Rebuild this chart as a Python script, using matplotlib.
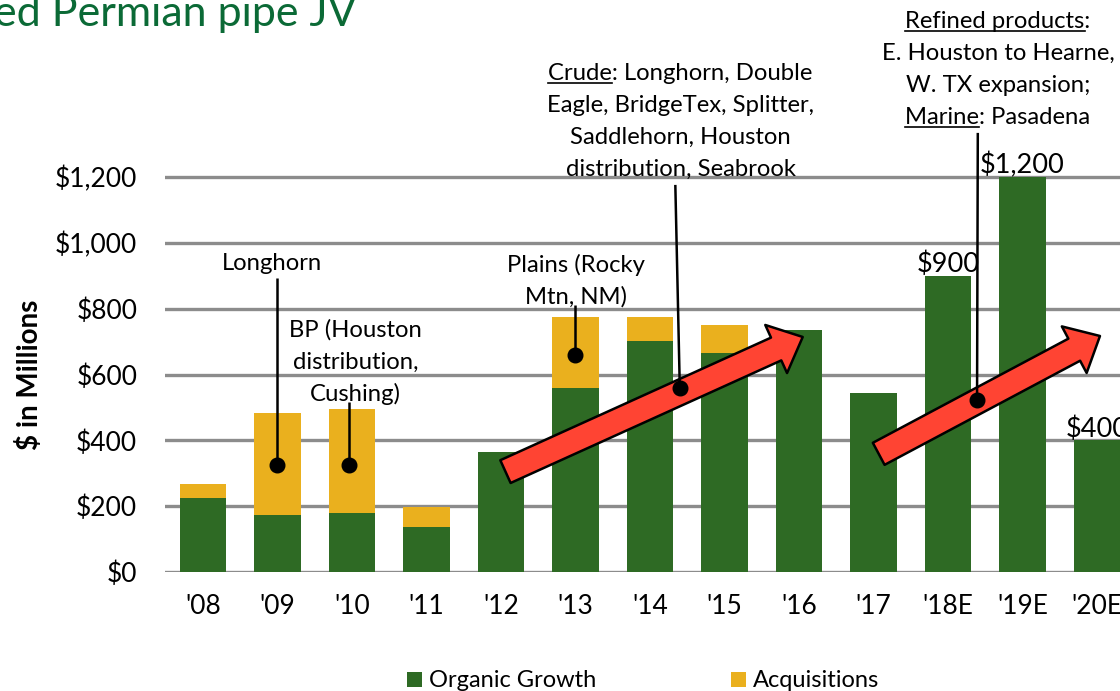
import matplotlib
matplotlib.use('Agg')
import matplotlib.pyplot as plt
from matplotlib.patches import FancyArrowPatch, Rectangle, ArrowStyle
from matplotlib.lines import Line2D

plt.rcParams['font.family'] = ['Lato', 'DejaVu Sans']
plt.rcParams['text.parse_math'] = False

# ---------------- data ----------------
years = ["'08", "'09", "'10", "'11", "'12", "'13", "'14", "'15", "'16", "'17", "'18E", "'19E", "'20E"]
organic = [225, 173, 179, 137, 365, 559, 702, 666, 735, 544, 900, 1200, 400]
acquisitions = [42, 310, 316, 61, 0, 216, 73, 84, 0, 0, 0, 0, 0]
yticks = [0, 200, 400, 600, 800, 1000, 1200]
ytick_labels = ['$0', '$200', '$400', '$600', '$800', '$1,000', '$1,200']
value_labels = {10: '$900', 11: '$1,200', 12: '$400'}
series_names = ['Organic Growth', 'Acquisitions']
title_text = 'ed Permian pipe JV'

GREEN = '#2E6A24'
GOLD = '#EAB01E'
RED = '#FF4433'
GRID = '#8C8C8C'
TITLE = '#0B6A36'

W, H = 1120, 691
fig = plt.figure(figsize=(W / 100, H / 100), dpi=100)
ax = fig.add_axes([165 / W, (H - 572) / H, (1134.25 - 165) / W, 572 / H])

xs = list(range(len(years)))
ax.bar(xs, organic, width=0.63, color=GREEN, zorder=2)
ax.bar(xs, acquisitions, bottom=organic, width=0.63, color=GOLD, zorder=2)

ax.set_xlim(-0.51, 12.5)
ax.set_ylim(0, 572 / (395 / 1200))
ax.set_yticks(yticks)
ax.set_yticklabels(ytick_labels, fontsize=19)
ax.set_xticks(xs)
ax.set_xticklabels(years, fontsize=19)
ax.tick_params(axis='both', length=0)
ax.tick_params(axis='y', pad=20)
ax.tick_params(axis='x', pad=16)
ax.yaxis.grid(True, color=GRID, lw=2.4, zorder=0)
ax.set_axisbelow(True)
for s in ax.spines.values():
    s.set_visible(False)
ax.patch.set_alpha(0)

# value labels
for i, lab in value_labels.items():
    ax.text(i, organic[i] + acquisitions[i] + 10, lab, ha='center', va='baseline', fontsize=19.5)

# arrows
style = ArrowStyle.Simple(head_length=21, head_width=38, tail_width=18)
for (a, b) in [((4.06, 305), (8.05, 714)), ((9.07, 359), (12.04, 717))]:
    arr = FancyArrowPatch(a, b, arrowstyle=style, mutation_scale=1, fc=RED, ec='black',
                          lw=1.8, zorder=4, shrinkA=0, shrinkB=0)
    ax.add_patch(arr)

# connectors and dots
connectors = [((1.0, 894), (1.0, 325)), ((1.96, 517), (1.96, 325)), ((5.0, 812), (5.0, 660)),
              ((6.34, 1176), (6.40, 559)), ((10.40, 1334), (10.39, 523))]
for (p0, p1) in connectors:
    ax.plot([p0[0], p1[0]], [p0[1], p1[1]], color='black', lw=1.8, zorder=5, solid_capstyle='butt')
    ax.plot([p1[0]], [p1[1]], 'o', ms=10.5, color='black', zorder=6)

# annotation text blocks
SP = 97
ANN = 17.2
underlines = []


def block(xc, y0, lines, size=ANN):
    for k, ln in enumerate(lines):
        if isinstance(ln, tuple):
            under, rest = ln
            t = ax.text(xc, y0 - k * SP, under + rest, ha='center', va='baseline', fontsize=size, zorder=7)
            underlines.append((t, under, xc, y0 - k * SP, size))
        else:
            ax.text(xc, y0 - k * SP, ln, ha='center', va='baseline', fontsize=size, zorder=7)


block(0.93, 918, ['Longhorn'])
block(2.05, 714, ['BP (Houston', 'distribution,', 'Cushing)'])
block(5.01, 912, ['Plains (Rocky', 'Mtn, NM)'])
block(6.41, 1495, [('Crude', ': Longhorn, Double'), 'Eagle, BridgeTex, Splitter,',
                   'Saddlehorn, Houston', 'distribution, Seabrook'])
block(10.67, 1653, [('Refined products', ':'), 'E. Houston to Hearne,', 'W. TX expansion;',
                    ('Marine', ': Pasadena')])

# y label, title
fig.text(30 / W, 1 - 375 / H, '$ in Millions', rotation=90, ha='center', va='center',
         fontsize=20, fontweight='bold')
fig.text(357 / W, 1 - 26 / H, title_text, ha='right', va='baseline', fontsize=31, color=TITLE)

# legend
for (x0, name, col) in [(407, series_names[0], GREEN), (731, series_names[1], GOLD)]:
    fig.add_artist(Rectangle((x0 / W, 1 - 687 / H), 15 / W, 15 / H, transform=fig.transFigure,
                             fc=col, ec='none'))
    fig.text((x0 + 22) / W, 1 - 687 / H, name, ha='left', va='baseline', fontsize=17)

# underlines
fig.canvas.draw()
r = fig.canvas.get_renderer()
for (t, under, xc, yb, size) in underlines:
    bb = t.get_window_extent(r)
    tmp = ax.text(0, 0, under, fontsize=size)
    wb = tmp.get_window_extent(r)
    tmp.remove()
    ybase = ax.transData.transform((xc, yb))[1] - 3
    fx0 = bb.x0 / W
    fx1 = (bb.x0 + wb.width) / W
    fy = ybase / H
    fig.add_artist(Line2D([fx0, fx1], [fy, fy], transform=fig.transFigure, color='black', lw=1.2))

fig.savefig('out.png', dpi=100)
